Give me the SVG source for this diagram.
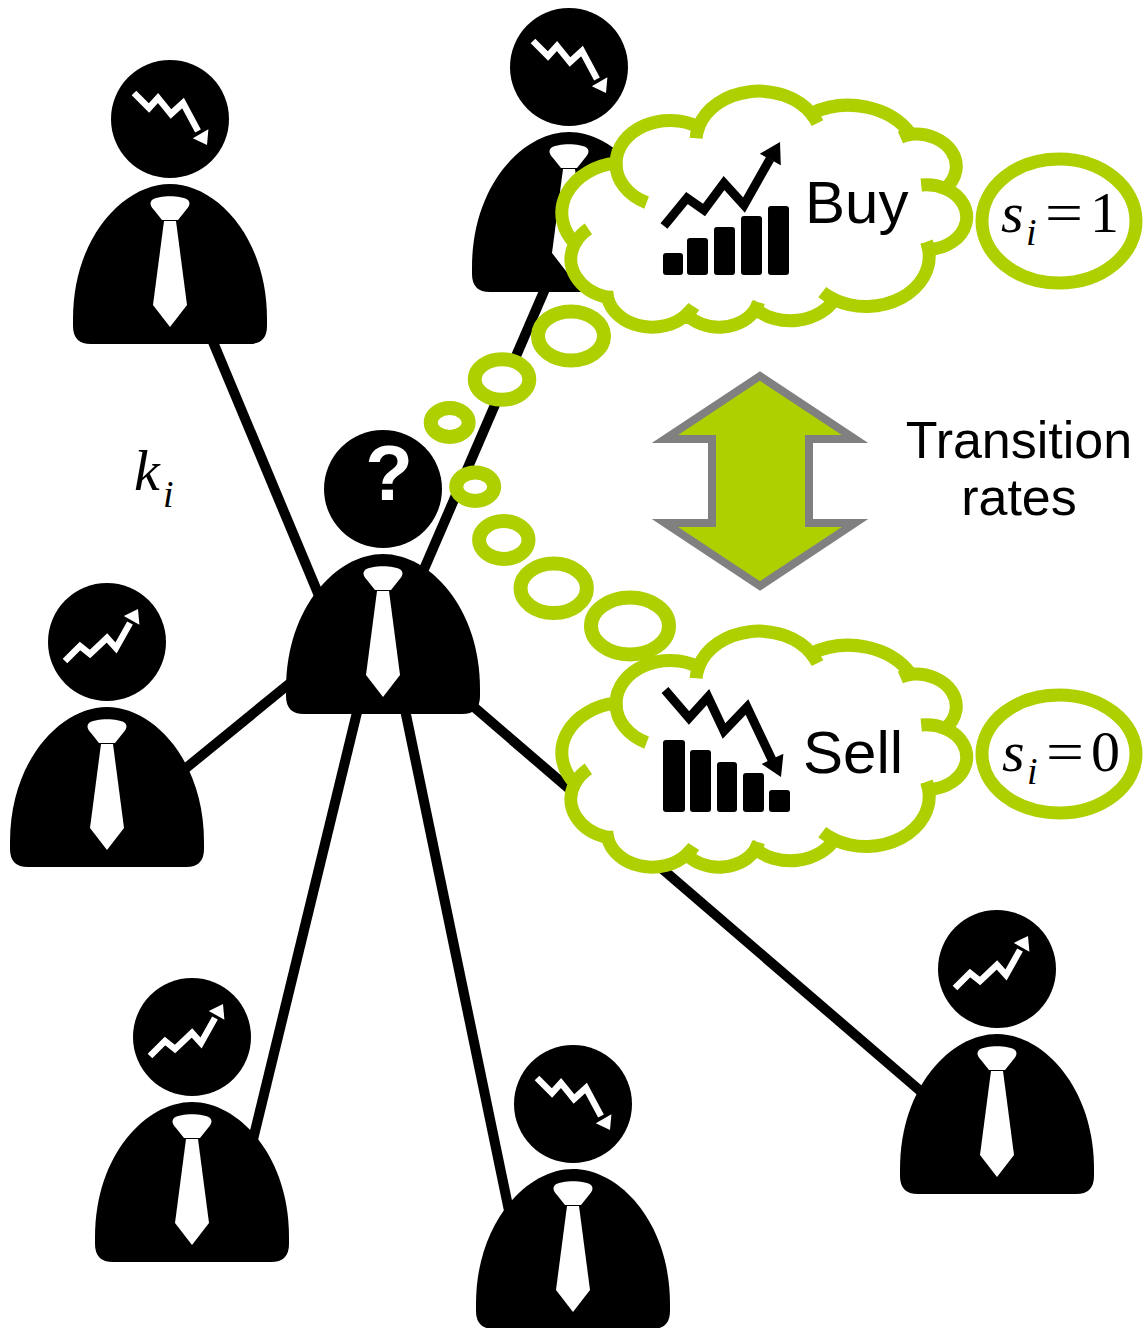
<svg xmlns="http://www.w3.org/2000/svg" xmlns:xlink="http://www.w3.org/1999/xlink" width="1145" height="1328" viewBox="0 0 1145 1328">
<style>
.skin{fill:#000}
.tie{fill:#fff}
.trend{fill:none;stroke:#fff;stroke-width:6.5;stroke-linejoin:miter;stroke-miterlimit:10}
.trendhead{fill:#fff}
.link{stroke:#000;stroke-width:10;fill:none}
.cloud{fill:#fff;stroke:#AECF00;stroke-width:13;vector-effect:non-scaling-stroke}
.seam{fill:none;stroke:#AECF00;stroke-width:13;vector-effect:non-scaling-stroke}
.bubble{fill:#fff;stroke:#AECF00;stroke-width:14}
.state{fill:#fff;stroke:#AECF00;stroke-width:13}
.label{font-family:'Liberation Sans',Arial,sans-serif;fill:#000}
.math{font-family:'Liberation Serif','Times New Roman',serif;fill:#000}
.bar{fill:#000}
.chart{fill:none;stroke:#000;stroke-width:9;stroke-linejoin:miter}
.arrow{fill:#AECF00;stroke:#808080;stroke-width:8;stroke-linejoin:miter}
</style>
<defs>
  <!-- torso with tie, origin at head centre -->
  <g id="torso">
    <path class="skin" d="M-97,200 C-97,118 -46,65 0,65 C46,65 97,118 97,200 L97,207 Q97,225 79,225 L-79,225 Q-97,225 -97,207 Z"/>
    <path class="tie" d="M-18,81 C-11,76 11,76 18,81 C21,84 19,88 16,91 L8,101 L-8,101 L-16,91 C-19,88 -21,84 -18,81 Z"/>
    <path class="tie" d="M-6,102 L6,102 L17,186 L0,208 L-17,186 Z"/>
  </g>
  <circle id="head" class="skin" r="59"/>
  <g id="trend-down">
    <polyline class="trend" points="-36,-26 -21,-11 -12,-21 1,-5 13,-16 28,12"/>
    <polygon class="trendhead" points="37,26 22.8,19.2 38.4,10.2"/>
  </g>
  <g id="trend-up">
    <polyline class="trend" points="-42,19 -27,4 -17,12 0,-4 9,6 23,-19"/>
    <polygon class="trendhead" points="31,-33 32.4,-17.3 16.8,-26.1"/>
  </g>
  <!-- cloud outline in a 43200 x 43200 box -->
  <path id="cloud-shape" class="cloud" d="M3900,14370 A6753,9190 0 0 1 14005,5202 A5333,7267 0 0 1 22457,3431 A4365,5945 0 0 1 29834,2480 A4857,6595 0 0 1 38319,5575 A5333,7273 0 0 1 41819,15459 A6775,9220 0 0 1 37405,30202 A5785,7867 0 0 1 28557,36812 A6752,9215 0 0 1 16481,39263 A7720,10543 0 0 1 5806,35469 A4360,5918 0 0 1 2114,25547 A4345,5945 0 0 1 3900,14370 Z"/>
  <path id="cloud-seams" class="seam" d="M4693,26177 A4345,5945 0 0 1 2114,25547 M6928,34899 A4360,5918 0 0 1 5806,35469 M16481,39263 A6752,9215 0 0 1 15813,37524 M28827,34751 A6752,9215 0 0 1 28557,36812 M34129,22954 A5785,7867 0 0 1 37405,30202 M41819,15459 A5333,7273 0 0 1 40371,18134 M38319,5575 A4857,6595 0 0 1 38396,6839 M29078,3952 A4857,6595 0 0 1 29834,2480 M22141,4720 A4365,5945 0 0 1 22457,3431 M14005,5202 A6753,9190 0 0 1 15305,6551 M4127,15789 A6753,9190 0 0 1 3900,14370"/>
</defs>

<!-- network links -->
<g id="connectors">
  <line class="link" x1="208" y1="330" x2="325" y2="610"/>
  <line class="link" x1="548" y1="282" x2="415" y2="590"/>
  <line class="link" x1="180" y1="773" x2="300" y2="675"/>
  <line class="link" x1="360" y1="700" x2="248" y2="1160"/>
  <line class="link" x1="403" y1="700" x2="513" y2="1230"/>
  <line class="link" x1="460" y1="695" x2="925" y2="1095"/>
</g>

<!-- traders -->
<g id="trader-nw" transform="translate(170,119)">
  <use xlink:href="#head"/><use xlink:href="#trend-down"/><use xlink:href="#torso"/>
</g>
<g id="trader-n" transform="translate(569,67)">
  <use xlink:href="#head"/><use xlink:href="#trend-down"/><use xlink:href="#torso"/>
</g>
<g id="trader-center" transform="translate(383,489)">
  <use xlink:href="#head"/>
  <text x="6" y="11" font-family="'Liberation Sans',Arial,sans-serif" font-weight="bold" font-size="78" fill="#fff" text-anchor="middle">?</text>
  <use xlink:href="#torso"/>
</g>
<g id="trader-w" transform="translate(107,642)">
  <use xlink:href="#head"/><use xlink:href="#trend-up"/><use xlink:href="#torso"/>
</g>
<g id="trader-sw" transform="translate(192,1037)">
  <use xlink:href="#head"/><use xlink:href="#trend-up"/><use xlink:href="#torso"/>
</g>
<g id="trader-s" transform="translate(573,1104)">
  <use xlink:href="#head"/><use xlink:href="#trend-down"/><use xlink:href="#torso"/>
</g>
<g id="trader-se" transform="translate(997,969)">
  <use xlink:href="#head"/><use xlink:href="#trend-up"/><use xlink:href="#torso"/>
</g>

<!-- opinion clouds -->
<g id="cloud-buy">
  <g transform="translate(965,328) scale(-0.0093287,-0.005463)">
    <use xlink:href="#cloud-shape"/><use xlink:href="#cloud-seams"/>
  </g>
  <rect class="bar" x="663" y="253" width="20" height="22" rx="3"/>
  <rect class="bar" x="687" y="238" width="21" height="37" rx="3"/>
  <rect class="bar" x="714" y="227" width="21" height="48" rx="3"/>
  <rect class="bar" x="741" y="216" width="21" height="59" rx="3"/>
  <rect class="bar" x="768" y="206" width="21" height="69" rx="3"/>
  <polyline class="chart" points="664,226 687,198 704,210 724,183 744,205 770,159"/>
  <polygon class="bar" points="780,142 780.8,165.3 759.8,153.7"/>
  <text class="label" x="805" y="223" font-size="60">Buy</text>
</g>
<g id="cloud-sell">
  <g transform="translate(965,868) scale(-0.0093287,-0.005463)">
    <use xlink:href="#cloud-shape"/><use xlink:href="#cloud-seams"/>
  </g>
  <rect class="bar" x="663" y="740" width="22" height="72" rx="3"/>
  <rect class="bar" x="690" y="750" width="21" height="62" rx="3"/>
  <rect class="bar" x="717" y="762" width="20" height="50" rx="3"/>
  <rect class="bar" x="743" y="773" width="21" height="39" rx="3"/>
  <rect class="bar" x="769" y="790" width="21" height="22" rx="3"/>
  <polyline class="chart" points="665,690 689,718 708,697 724,731 747,707 773,762"/>
  <polygon class="bar" points="781,777 761.6,764 783.4,753.8"/>
  <text class="label" x="803" y="773" font-size="60">Sell</text>
</g>

<!-- thought bubbles -->
<g id="bubbles">
  <ellipse class="bubble" cx="571" cy="336" rx="33" ry="24.5"/>
  <ellipse class="bubble" cx="502" cy="379.5" rx="27.3" ry="20.3"/>
  <ellipse class="bubble" cx="449.7" cy="422.5" rx="19" ry="14.4"/>
  <ellipse class="bubble" cx="475.2" cy="486.7" rx="19" ry="14.2"/>
  <ellipse class="bubble" cx="503.8" cy="540" rx="24.7" ry="18.9"/>
  <ellipse class="bubble" cx="553.7" cy="588.3" rx="33.2" ry="24.7"/>
  <ellipse class="bubble" cx="630" cy="626" rx="39" ry="28.5"/>
</g>

<!-- state values -->
<g id="state-buy">
  <ellipse class="state" cx="1059" cy="221" rx="77" ry="62"/>
  <text class="math" x="1001" y="232" font-size="58" font-style="italic">s</text>
  <text class="math" x="1026" y="245" font-size="38" font-style="italic">i</text>
  <text class="math" x="1045" y="232" font-size="58" textLength="38" lengthAdjust="spacingAndGlyphs">=</text>
  <text class="math" x="1090" y="232" font-size="58">1</text>
</g>
<g id="state-sell">
  <ellipse class="state" cx="1059" cy="754" rx="77" ry="59"/>
  <text class="math" x="1002" y="771" font-size="58" font-style="italic">s</text>
  <text class="math" x="1027" y="784" font-size="38" font-style="italic">i</text>
  <text class="math" x="1046" y="771" font-size="58" textLength="38" lengthAdjust="spacingAndGlyphs">=</text>
  <text class="math" x="1091" y="771" font-size="58">0</text>
</g>

<!-- transition between states -->
<g id="transition-arrow">
  <polygon class="arrow" points="760,376 855,439 809,439 809,523 855,523 760,586 665,523 712,523 712,439 665,439"/>
</g>
<g id="label-transition">
  <text class="label" x="1019" y="458" font-size="52" text-anchor="middle">Transition</text>
  <text class="label" x="1019" y="515" font-size="52" text-anchor="middle">rates</text>
</g>

<g id="label-degree">
  <text class="math" x="134" y="490" font-size="58" font-style="italic">k</text>
  <text class="math" x="163" y="507" font-size="38" font-style="italic">i</text>
</g>
</svg>
